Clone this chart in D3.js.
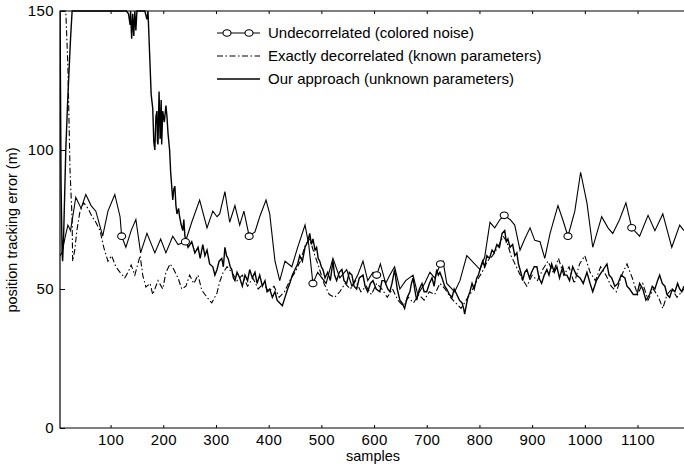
<!DOCTYPE html>
<meta charset="utf-8">
<style>
body { margin: 0; background: #fff; }
text { font-family: "Liberation Sans", Arial, Helvetica, sans-serif; fill: #000; }
.axis text { font-size: 15px; letter-spacing: 0.4px; }
.axis line { stroke: #000; }
.axis path { display: none; }
.frame { fill: none; stroke: #000; stroke-width: 1.2; }
.undec { fill: none; stroke: #000; stroke-width: 1.1; }
.decor { fill: none; stroke: #000; stroke-width: 1.1; stroke-dasharray: 6,2.5,1.5,2.5; }
.ours { fill: none; stroke: #000; stroke-width: 1.4; }
.marker { fill: #fff; stroke: #000; stroke-width: 1.1; }
.legend text { font-size: 15px; }
</style>
<svg width="684" height="465"></svg>
<script src="https://d3js.org/d3.v7.min.js"></script>
<script>

// ticks
var xTicks = [100, 200, 300, 400, 500, 600, 700, 800, 900, 1000, 1100];
var yTicks = [0, 50, 100, 150];

// series: [sample, error in m]
var undecorrelated = [[4,62],[8,63],[13,68],[19,73],[24,71],[34,83],[44,79],[53,84],[63,80],[72,78],[85,69],[95,78],[108,84],[118,76],[121,69],[129,65],[139,71],[148,75],[157,63],[169,70],[184,63],[195,68],[205,63],[218,69],[228,66],[242,67],[254,74],[269,82],[283,72],[294,78],[302,76],[307,77],[317,85],[326,74],[336,80],[345,73],[353,78],[363,69],[374,70.5],[383,76],[395,82],[402,77],[412,60],[421,53],[431,60],[444,58],[455,65],[469,73],[476,66],[484,52],[493,56],[509,52],[522,61],[535,54],[548,57],[558,51],[569,55],[579,60],[588,53],[598,56],[605,55],[612,59],[622,52],[630,55],[639,58],[649,50],[660,53],[674,55],[683,48],[696,52],[706,56],[715,54],[726,59],[731,60],[738,52],[753,49],[763,53],[776,62],[786,60],[801,57],[810,61.5],[820,74],[829,72],[839,75],[847,76.5],[858,75],[867,73],[877,64],[886,68],[896,72],[905,67.5],[915,67],[924,61],[934,70],[949,80],[958,75],[968,69],[981,78],[992,92],[1004,81],[1015,65],[1032,76],[1044,72],[1053,70],[1066,75],[1078,81],[1089,72],[1104,69],[1120,76.5],[1133,71],[1148,77],[1165,65],[1180,73],[1188,71]];

var decorrelated = [[4,150],[15,150],[19,130],[23,93],[27,75],[28,60],[32,64],[36,71],[42,78],[49,81],[57,79],[65,76],[72,74],[80,71],[87,65],[95,60],[102,62],[110,58],[118,56],[127,54],[133,56],[139,58.6],[146,55],[156,62],[161,55],[167,50.7],[175,52],[180,48],[190,53],[199,50],[205,56],[213,59],[220,57],[228,54],[235,50],[243,51],[250,55],[258,52],[266,55],[273,49.6],[283,47],[292,45],[302,48.6],[307,52.5],[313,55.7],[321,58],[330,56],[340,53],[350,55],[360,51],[370,54],[380,50],[390,52],[400,49],[410,51],[420,47],[430,49],[440,53],[450,56],[460,60],[470,66],[478,68],[486,63],[495,58],[505,52],[515,48],[525,47],[535,49],[545,52],[555,50],[565,53],[575,49],[585,51],[595,48],[605,52],[615,50],[625,47],[635,50],[645,46],[655,44],[665,47],[675,45],[685,48],[695,46],[705,49],[715,48],[725,52],[735,50],[745,47],[755,45],[765,43],[775,46],[785,49],[795,53],[805,56],[815,60],[825,62],[835,65],[845,69],[852,67],[860,62],[870,58],[880,54],[890,51],[900,55],[910,53],[920,57],[930,60],[940,56],[950,61],[960,55],[970,58],[980,52],[990,59],[1000,62],[1010,56],[1020,53],[1030,58],[1040,55],[1050,51],[1060,49],[1070,55],[1080,59],[1090,54],[1100,48],[1110,52],[1120,46],[1130,50],[1140,47],[1148,43],[1156,48],[1165,50],[1175,47],[1188,50]];

var ours = [[4,150],[5,120],[6,88],[8,63],[9,60],[11,70],[13,85],[15,100],[18,115],[21,128],[24,140],[27,150],[130,150],[134,149],[137,145],[138,150],[140,140],[142,149],[144,141],[146,150],[148,143],[150,150],[165,150],[169,147],[171,150],[174,135],[177,120],[180,115],[182,103],[184,100],[186,112],[188,114],[189,103],[190,102],[192,121],[194,104],[196,118],[197,102],[199,114],[202,110],[205,116],[207,112],[209,106],[212,100],[214,92],[216,87],[218,82],[220,86],[222,87],[224,80],[226,77],[229,79],[231,76],[234,73],[237,71],[239,75],
  [241,69],[247,65],[254,67],[260,63],[266,65],[270,61],[275,66],[279,62],[283,64],[288,59],[294,58],[298,55],[302,57],[306,60],[311,61],[314,58],[317,65],[320,62],[323,61],[327,58],[330,57],[333,54],[336,53],[340,56],[345,54],[350,51],[355,55],[360,53],[364,57],[369,54],[374,56],[378,52],[383,55],[388,51],[393,53],[397,49],[402,50],[407,47],[412,49],[416,46],[421,45],[426,44],[431,47],[436,50],[440,52],[445,55],[450,57],[455,59],[459,62],[464,60],[469,65],[474,67],[478,70],[481,66],[484,68],[488,64],[491,65],[494,61],[497,60],[500,58],[503,57],[507,54],[512,56],[517,53],[522,60],[525,55],[529,53],[534,56],[539,57],[543,53],[548,52],[553,56],[558,55],[562,51],[567,50],[572,54],[579,55],[583,51],[588,49],[593,52],[598,53],[604,50],[611,49],[615,53],[620,53],[626,50],[630,49],[634,52],[639,57],[644,50],[649,46],[653,45],[658,43],[663,47],[668,49],[671,52],[674,54],[678,49],[681,46],[686,50],[691,52],[695,49],[700,49],[705,52],[710,54],[714,51],[719,57],[722,55],[725,56],[729,54],[734,51],[738,50],[743,48],[748,47],[752,50],[757,48],[762,46],[767,45],[770,43],[772,41],[775,44],[778,47],[782,49],[786,52],[790,50],[795,54],[798,55],[801,57],[806,60],[810,58],[814,62],[819,61],[824,64],[828,63],[833,66],[838,65],[843,70],[848,71],[851,67],[854,68],[858,65],[863,66],[867,62],[871,63],[874,59],[877,57],[880,55],[882,53],[886,56],[890,57],[895,54],[899,56],[904,58],[909,58],[913,54],[918,52],[923,55],[928,57],[932,55],[937,59],[942,56],[947,58],[952,54],[958,58],[962,55],[966,55],[971,53],[977,58],[984,55],[991,54],[997,52],[1004,56],[1010,52],[1015,49],[1022,53],[1028,55],[1035,57],[1042,59],[1046,55],[1051,54],[1057,51],[1063,52],[1069,55],[1076,54],[1080,51],[1085,50],[1092,48],[1099,48],[1104,52],[1110,50],[1116,46],[1123,48],[1128,51],[1133,50],[1138,53],[1142,55],[1147,52],[1152,51],[1156,48],[1161,47],[1166,50],[1171,49],[1176,52],[1180,50],[1184,49],[1188,51]];

// circle markers sit on the undecorrelated curve every 121 samples
var markerSamples = [121, 242, 363, 484, 605, 726, 847, 968, 1089];

var legendLabels = ["Undecorrelated (colored noise)", "Exactly decorrelated (known parameters)", "Our approach (unknown parameters)"];

var svg = d3.select("svg");
var plotLeft = 60, plotRight = 686, plotTop = 11, plotBottom = 428;

var x = d3.scaleLinear().domain([4, 1192]).range([plotLeft, plotRight]);
var y = d3.scaleLinear().domain([0, 150]).range([plotBottom, plotTop]);

svg.append("defs").append("clipPath").attr("id", "plot")
  .append("rect").attr("x", plotLeft).attr("y", plotTop - 1)
  .attr("width", plotRight - plotLeft).attr("height", plotBottom - plotTop + 1);

var line = d3.line()
    .x(function(d) { return x(d[0]); })
    .y(function(d) { return y(d[1]); });

var g = svg.append("g").attr("clip-path", "url(#plot)");
g.append("path").datum(decorrelated).attr("class", "decor").attr("d", line);
g.append("path").datum(ours).attr("class", "ours").attr("d", line);
g.append("path").datum(undecorrelated).attr("class", "undec").attr("d", line);

var markers = markerSamples.map(function(s) {
  return undecorrelated.find(function(p) { return p[0] === s; });
});
g.selectAll("ellipse.marker").data(markers).enter().append("ellipse")
  .attr("class", "marker")
  .attr("cx", function(d) { return x(d[0]); })
  .attr("cy", function(d) { return y(d[1]); })
  .attr("rx", 4).attr("ry", 3.3);

// frame and ticks
svg.append("path").attr("class", "frame")
  .attr("d", "M" + plotRight + "," + plotTop + "H" + plotLeft + "V" + plotBottom + "H" + plotRight);

svg.append("g").attr("class", "axis")
  .attr("transform", "translate(0," + plotBottom + ")")
  .call(d3.axisBottom(x).tickValues(xTicks).tickFormat(d3.format("d"))
    .tickSizeInner(-3).tickSizeOuter(0).tickPadding(6));

svg.append("g").attr("class", "axis")
  .attr("transform", "translate(0," + plotTop + ")")
  .call(d3.axisTop(x).tickValues(xTicks).tickSizeInner(-3).tickSizeOuter(0).tickFormat(""));

svg.append("g").attr("class", "axis")
  .attr("transform", "translate(" + plotLeft + ",0)")
  .call(d3.axisLeft(y).tickValues(yTicks).tickFormat(d3.format("d"))
    .tickSizeInner(-5).tickSizeOuter(0).tickPadding(6));

svg.append("text")
  .attr("x", 373).attr("y", 461)
  .attr("text-anchor", "middle")
  .style("font-size", "14.5px")
  .text("samples");

svg.append("text")
  .attr("transform", "translate(17,230) rotate(-90)")
  .attr("text-anchor", "middle")
  .style("font-size", "14.5px")
  .text("position tracking error (m)");

// legend
var legend = svg.append("g").attr("class", "legend");
var rows = [33, 56, 79];
var classes = ["undec", "decor", "ours"];
legendLabels.forEach(function(label, i) {
  legend.append("line").attr("class", classes[i])
    .attr("x1", 217).attr("x2", 260).attr("y1", rows[i]).attr("y2", rows[i]);
  legend.append("text").attr("x", 268).attr("y", rows[i]).attr("dy", "0.35em").text(label);
});
legend.selectAll("ellipse").data([227, 249]).enter().append("ellipse")
  .attr("class", "marker")
  .attr("cx", function(d) { return d; }).attr("cy", rows[0])
  .attr("rx", 4).attr("ry", 3.3);

</script>
